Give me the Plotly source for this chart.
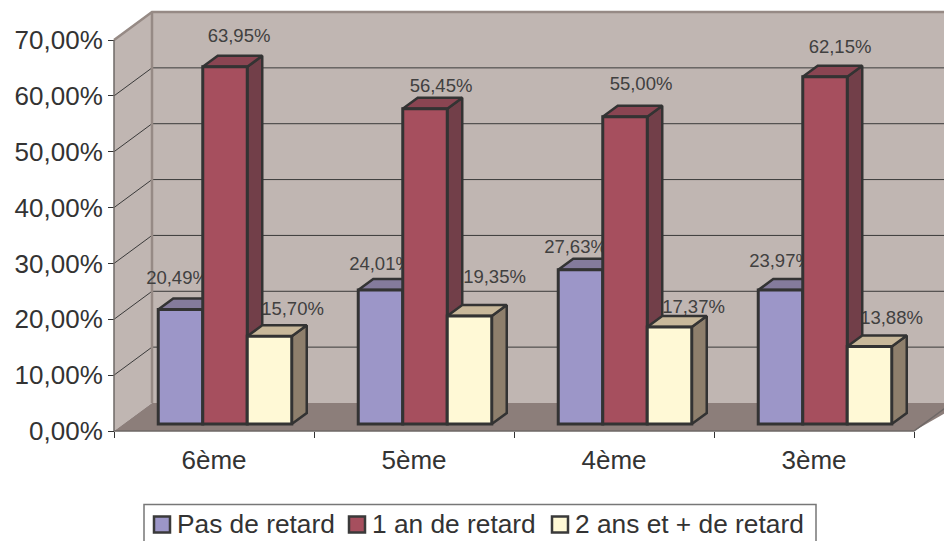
import plotly.graph_objects as go

categories = ["6ème", "5ème", "4ème", "3ème"]
pas_de_retard = [20.49, 24.01, 27.63, 23.97]
un_an = [63.95, 56.45, 55.00, 62.15]
deux_ans = [15.70, 19.35, 17.37, 13.88]
y_ticks = [0, 10, 20, 30, 40, 50, 60, 70]
y_tick_labels = ["0,00%", "10,00%", "20,00%", "30,00%", "40,00%", "50,00%", "60,00%", "70,00%"]

W, H = 944, 541
X0, Y0 = 114, 431          # pixel of the axes origin
PX_X, PX_Y = 200, 391 / 70  # pixels per axis unit
DX, DY = 38 / PX_X, 28 / PX_Y   # chart depth in axis units
FONT = "Liberation Sans"

names = ["Pas de retard", "1 an de retard", "2 ans et + de retard"]
series = [pas_de_retard, un_an, deux_ans]
front = ["#9C96C8", "#A64F5E", "#FFF9D6"]
top = ["#847B9C", "#8A4552", "#C8B89A"]
side = ["#7A7196", "#723F49", "#8E7F6C"]
EDGE = "#333333"

# label nudges in pixels relative to top of the bar's centre
label_dx = [[-3, 14, 23], [0, 16, 25], [-5, 16, 24], [0, 15, 22]]
label_dy = [[30, 29, 26], [25, 21, 38], [21, 31, 19], [28, 28, 27]]

BAR_W = 0.2225
GROUP_SHIFT = 0.055
BASE = 0.25 * DY
BDX, BDY = 15 / PX_X, 11 / PX_Y
RIGHT = (W - X0) / PX_X + 0.02


def px_x(p):
    return (p - X0) / PX_X


def px_y(p):
    return (Y0 - p) / PX_Y


fig = go.Figure()


def poly(xs, ys, fill, z, line=None, width=0):
    fig.add_trace(go.Scatter(
        x=xs, y=ys, mode="lines", fill="toself", fillcolor=fill, zorder=z,
        line=dict(color=line or fill, width=width), showlegend=False, hoverinfo="skip",
    ))


def path(xs, ys, color, width, z):
    fig.add_trace(go.Scatter(
        x=xs, y=ys, mode="lines", line=dict(color=color, width=width), zorder=z,
        showlegend=False, hoverinfo="skip",
    ))


WALL = "#C0B6B2"
FLOOR = "#8C7E7A"
BORDER = "#968A85"
# walls and floor
poly([DX, RIGHT, RIGHT, DX], [70 + DY] * 2 + [DY] * 2, WALL, 1)
poly([0, DX, DX, 0], [0, DY, 70 + DY, 70], WALL, 1)
poly([0, DX, RIGHT, RIGHT, 4], [0, DY, DY, DY * 0.7, 0], FLOOR, 1)
# gridlines
for v in y_ticks[1:-1]:
    path([0, DX, RIGHT], [v, v + DY, v + DY], "#3A3A3A", 1, 2)
path([0, DX, RIGHT], [70, 70 + DY, 70 + DY], BORDER, 2.5, 2)
path([DX, DX], [DY, 70 + DY], BORDER, 2.5, 2)
path([0, 0], [0, 70], "#6E6866", 1.5, 2)
path([0, 4, 4 + DX], [0, 0, DY], "#6E6866", 1.5, 2)

# data labels sit behind the bars
lx, ly, lt = [], [], []
for s, vals in enumerate(series):
    for c, v in enumerate(vals):
        cx = c + 0.5 + GROUP_SHIFT + (s - 1) * BAR_W
        lx.append(cx + label_dx[c][s] / PX_X)
        ly.append(v + BASE + label_dy[c][s] / PX_Y)
        lt.append(f"{v:.2f}%".replace(".", ","))
fig.add_trace(go.Scatter(x=lx, y=ly, text=lt, mode="text", textposition="middle center",
                         textfont=dict(family=FONT, size=18.5, color="#404040"),
                         zorder=3, showlegend=False, hoverinfo="skip"))

# bars
for s, vals in enumerate(series):
    xs_side, ys_side, xs_top, ys_top = [], [], [], []
    centers = []
    for c, v in enumerate(vals):
        cx = c + 0.5 + GROUP_SHIFT + (s - 1) * BAR_W
        centers.append(cx)
        l, r = cx - BAR_W / 2, cx + BAR_W / 2
        t = BASE + v
        xs_side += [r, r + BDX, r + BDX, r, r, None]
        ys_side += [BASE, BASE + BDY, t + BDY, t, BASE, None]
        xs_top += [l, l + BDX, r + BDX, r, l, None]
        ys_top += [t, t + BDY, t + BDY, t, t, None]
    z = 4 + 2 * s
    poly(xs_side, ys_side, side[s], z, EDGE, 2.5)
    poly(xs_top, ys_top, top[s], z, EDGE, 2.5)
    fig.add_trace(go.Bar(
        x=centers, y=vals, base=BASE, width=BAR_W, name=names[s], zorder=z + 1,
        showlegend=False, marker=dict(color=front[s], line=dict(color=EDGE, width=3)),
    ))

# legend box, open at the bottom where the picture ends
path([px_x(144), px_x(144), px_x(816), px_x(816)], [px_y(H + 2), px_y(504.5), px_y(504.5), px_y(H + 2)],
     "#777777", 1.5, 12)
legend_swatch_px = [162, 357, 560]
legend_text_px = [177, 372, 575]
for s in range(3):
    fig.add_trace(go.Scatter(
        x=[px_x(legend_swatch_px[s])], y=[px_y(524.5)], mode="markers",
        marker=dict(symbol="square", size=16, color=front[s], line=dict(color="#3A3A3A", width=2.5)),
        zorder=12, showlegend=False, hoverinfo="skip"))
    fig.add_trace(go.Scatter(
        x=[px_x(legend_text_px[s])], y=[px_y(526.5)], mode="text", text=[names[s]],
        textposition="middle right", textfont=dict(family=FONT, size=26.3, color="#333333"),
        zorder=12, showlegend=False, hoverinfo="skip"))

fig.update_layout(
    width=W, height=H, autosize=False, margin=dict(l=0, r=0, t=0, b=0),
    paper_bgcolor="white", plot_bgcolor="white", barmode="overlay", showlegend=False,
    font=dict(family=FONT, size=26, color="#333333"),
    xaxis=dict(range=[-X0 / PX_X, (W - X0) / PX_X], anchor="free", position=(H - Y0) / H,
               showgrid=False, zeroline=False, showline=False,
               tickmode="array", tickvals=[i + 0.5 for i in range(4)], ticktext=categories,
               ticks="", ticklabelstandoff=11,
               minor=dict(tickmode="array", tickvals=[0, 1, 2, 3, 4], ticks="outside",
                          ticklen=6, tickcolor="#333333", tickwidth=1, showgrid=False)),
    yaxis=dict(range=[-(H - Y0) / PX_Y, Y0 / PX_Y], anchor="free", position=X0 / W,
               showgrid=False, zeroline=False, showline=False,
               tickmode="array", tickvals=y_ticks, ticktext=y_tick_labels,
               ticks="outside", ticklen=6, tickcolor="#333333", tickwidth=1),
)

fig.write_html("out.html", config={"displayModeBar": False},
               post_script="document.body.style.margin='0';document.body.style.overflow='hidden';")
